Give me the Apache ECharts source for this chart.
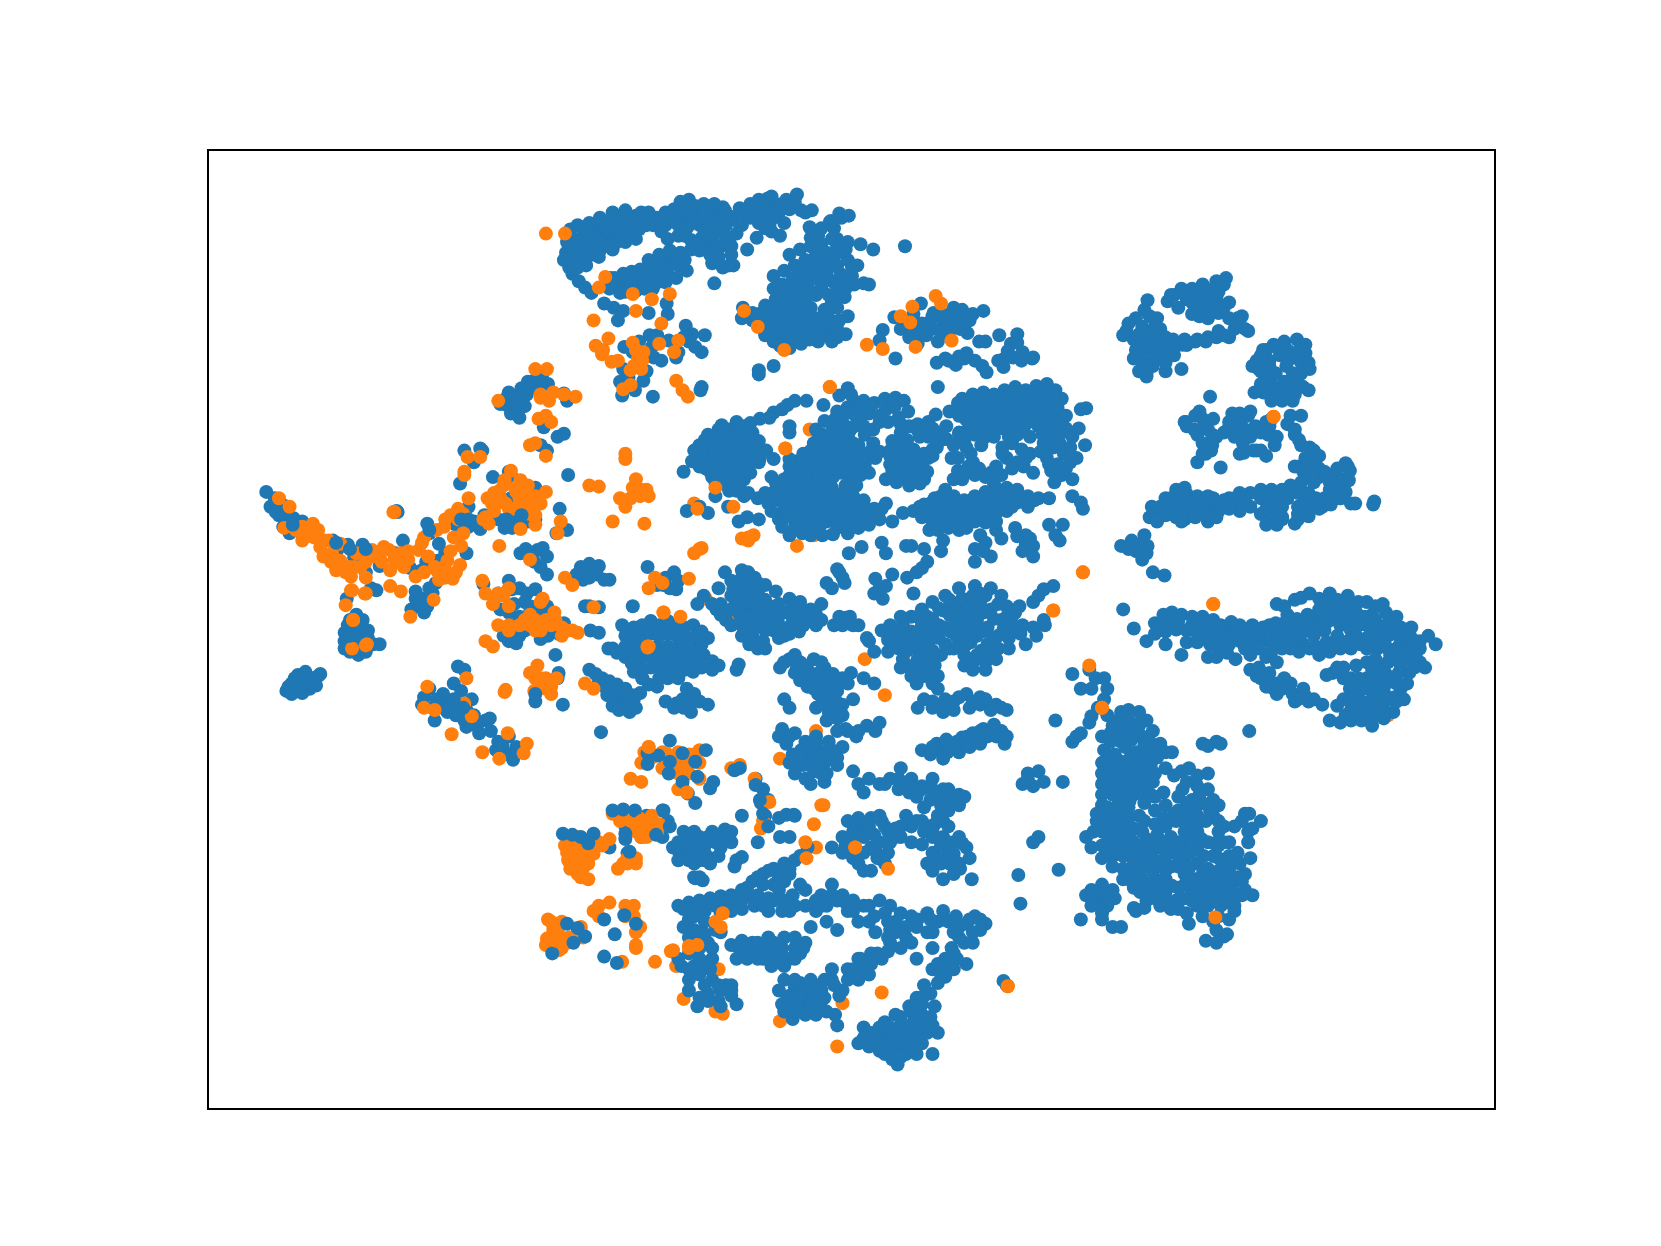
<!DOCTYPE html>
<html>
<head>
<meta charset="utf-8">
<title>scatter</title>
<script src="https://cdn.jsdelivr.net/npm/echarts@6/dist/echarts.min.js"></script>
<style>
html,body{margin:0;padding:0;background:#fff}
#chart{width:1661px;height:1246px}
</style>
</head>
<body>
<div id="chart"></div>
<script>
// values, one list per group of points
var blueTail = [[251,464],[255,478],[263,486],[268,477],[273,503],[277,489],[285,492],[284,503],[314,510],[318,519],[328,514],[342,514],[343,526],[334,526],[358,534],[373,522],[380,510],[387,536],[398,538],[402,530],[413,529],[440,522],[405,503],[403,494],[414,513],[438,494],[442,497],[453,499],[457,486],[442,478],[420,522],[345,540],[350,555],[355,557],[327,565],[392,565],[388,575],[395,570],[400,578],[408,560],[411,550],[374,482],[375,483],[430,495],[447,492],[259,470],[262,480],[270,488],[267,497],[392,558],[398,565],[403,572],[405,555]];
var blueLeftBlob = [[330,585],[325,597],[336,580],[342,585],[347,595],[325,605],[330,615],[340,610],[347,602],[352,608],[358,608],[332,600],[338,595],[325,612],[338,618],[345,615],[328,590],[335,590],[342,604],[334,608],[270,652],[275,645],[281,637],[288,634],[295,640],[300,638],[285,645],[292,650],[275,655],[283,650],[298,647],[278,640],[272,648],[288,640],[294,644],[302,636],[285,654]];
var blueCrown = [[472,381],[480,370],[488,376],[492,366],[498,360],[505,358],[512,352],[517,362],[495,383],[482,390],[490,394],[486,378],[497,372],[478,375],[509,365],[532,371],[535,378],[513,403],[526,412],[532,409],[516,425],[510,420],[438,425],[455,425],[447,436],[434,456],[453,423],[470,490],[476,498],[483,487],[490,482],[497,476],[490,492],[483,498],[498,492],[505,490],[482,470],[500,462],[505,460],[485,452],[480,445],[465,450],[528,480],[536,448],[535,500],[525,503],[491,522],[500,523],[507,519],[512,517],[516,525],[510,535],[516,542],[485,384],[502,365],[478,382],[491,372],[504,530],[496,518],[477,490],[487,494],[494,487]];
var blueMidLeft = [[544,542],[548,535],[550,547],[556,532],[565,534],[563,542],[570,547],[575,547],[556,545],[611,535],[620,552],[628,545],[636,540],[640,548],[638,556],[632,555],[456,551],[480,548],[483,556],[470,560],[490,555],[497,560],[505,556],[472,575],[480,578],[490,582],[500,578],[495,568],[507,572],[516,572],[520,580],[525,590],[532,588],[517,600],[510,603],[480,605],[475,600],[490,600],[487,607],[527,598],[552,572],[556,572],[565,573],[557,595],[565,597],[597,572],[574,612],[578,612],[524,618],[527,635],[526,640],[531,665],[505,662],[567,691],[485,570],[500,572],[510,580],[484,590],[495,595],[552,540],[560,538],[626,552]];
var bluePurse = [[432,629],[438,632],[428,645],[405,650],[398,665],[408,668],[418,655],[425,665],[430,675],[440,670],[447,675],[450,685],[458,680],[463,690],[470,700],[480,695],[487,705],[480,712],[484,717],[475,710],[462,678],[440,686],[415,662],[422,672],[435,652],[445,660],[410,680],[468,708],[418,668],[432,668],[438,680],[452,692],[474,703],[400,658],[412,660]];
var blueMainBlob = [[590,600],[598,592],[606,590],[614,586],[622,590],[630,586],[638,590],[646,592],[654,590],[662,596],[668,602],[590,610],[598,604],[606,600],[614,598],[622,600],[630,598],[638,600],[646,602],[654,602],[662,608],[590,620],[598,614],[606,612],[620,610],[630,610],[638,612],[646,612],[654,614],[664,618],[672,624],[596,626],[604,622],[614,620],[622,620],[630,620],[638,622],[646,622],[654,624],[662,630],[606,632],[614,630],[622,630],[630,630],[638,632],[646,632],[654,634],[622,640],[630,640],[640,640],[606,640],[598,634],[587,590],[582,616],[672,632],[678,628]];
var blueBelowBlob = [[556,632],[562,636],[568,640],[575,643],[582,646],[590,650],[597,656],[580,654],[572,650],[585,660],[592,666],[598,660],[604,654],[578,666],[584,670],[594,672],[606,640],[628,662],[638,664],[648,650],[655,655],[660,662],[668,665],[645,668],[652,672],[636,668],[697,627],[695,632],[565,644],[573,656],[588,656],[600,668],[612,646],[620,648],[644,660],[650,662]];
var blueTopLobe = [[538,216],[545,225],[540,232],[534,238],[540,244],[548,240],[555,236],[562,232],[570,228],[578,224],[586,220],[594,216],[600,210],[592,206],[584,204],[576,208],[568,212],[560,216],[552,220],[558,226],[566,222],[574,218],[582,214],[590,211],[597,222],[603,216],[606,208],[600,203],[590,201],[580,212],[572,215],[564,226],[556,228],[548,232],[542,238],[550,246],[558,240],[566,236],[574,232],[582,228],[537,252],[540,258],[546,265],[552,271],[558,276],[573,268],[580,262],[588,258],[596,256],[604,254],[612,256],[620,248],[628,244],[636,240],[642,238],[634,248],[622,258],[614,250],[600,262],[590,268],[582,270],[576,262],[606,266],[596,272],[616,264],[626,252],[646,245],[640,250],[630,258],[624,265],[616,272],[600,274],[590,275],[638,262],[648,255],[535,228],[532,245],[545,212],[556,210],[566,205],[578,200],[590,198],[605,200],[610,212],[600,225],[590,228],[578,235],[565,242],[553,250],[545,252],[536,222],[575,272],[585,276],[595,265],[608,262],[618,258],[608,272],[620,266],[612,245],[622,240],[632,236],[628,266]];
var blueTopGroups = [[620,205],[628,200],[636,197],[642,190],[650,188],[656,194],[664,192],[674,192],[682,195],[676,203],[668,202],[660,204],[652,202],[644,204],[636,208],[628,212],[640,212],[650,212],[660,212],[670,210],[680,205],[646,222],[652,226],[662,224],[674,218],[685,212],[695,220],[688,228],[680,232],[668,232],[660,236],[678,242],[690,240],[672,248],[692,250],[705,235],[700,202],[698,196],[708,192],[716,188],[724,187],[732,192],[742,188],[752,183],[745,197],[756,198],[766,198],[760,200],[716,198],[724,198],[708,205],[716,210],[722,215],[728,218],[736,222],[714,224],[700,212],[730,205],[612,200],[616,212],[624,218],[630,225],[640,222],[648,215],[655,207],[665,217],[672,226],[684,222],[670,240],[682,252],[688,250],[675,238],[690,232],[695,208],[705,198],[712,195],[720,192],[728,185],[738,192],[750,190],[718,205],[726,212],[735,200],[740,210],[658,230],[652,235],[684,198],[690,204],[676,212],[646,196],[634,204],[626,207],[640,200]];
var blueTopRight = [[764,214],[772,222],[784,208],[794,205],[787,215],[790,225],[800,228],[812,230],[824,235],[780,238],[770,240],[760,245],[750,250],[740,255],[730,260],[738,268],[748,262],[758,256],[768,250],[778,248],[788,240],[796,238],[790,250],[780,260],[770,262],[762,268],[752,274],[742,278],[732,282],[722,288],[716,296],[710,302],[722,302],[732,295],[742,292],[752,288],[760,282],[775,270],[785,265],[793,258],[800,245],[804,252],[738,305],[746,300],[756,298],[726,310],[735,315],[745,312],[756,310],[764,302],[754,320],[742,322],[730,322],[722,316],[768,315],[780,316],[772,322],[782,300],[790,290],[797,280],[785,285],[778,292],[770,300],[790,310],[800,298],[798,315],[790,270],[770,278],[806,268],[820,268],[815,267],[809,250],[701,290],[745,328],[730,345],[745,240],[755,235],[765,232],[775,230],[785,225],[775,215],[765,224],[792,201],[801,203],[783,209],[730,272],[738,276],[746,270],[756,265],[764,258],[772,256],[782,252],[790,232],[798,235],[738,288],[730,290],[748,282],[756,276],[720,295],[728,302],[716,308],[738,298],[746,290],[752,300],[760,292],[735,308],[745,305],[755,304],[728,316],[738,322],[748,318],[758,316],[765,312],[775,308],[784,308],[792,302],[782,292],[790,280],[798,272],[775,300],[772,310],[785,322],[790,318],[736,326],[756,324],[764,320],[700,300],[710,295],[804,260],[795,264],[752,262],[760,248],[770,245],[780,244],[775,258],[765,275],[782,278],[765,290],[755,292],[778,302]];
var blueMidTop = [[570,286],[579,290],[588,293],[583,302],[612,295],[629,286],[630,296],[613,316],[620,316],[615,327],[589,327],[597,332],[617,337],[588,348],[593,356],[607,359],[631,321],[638,337],[647,307],[653,315],[665,316],[662,332],[656,327],[645,318],[587,373],[616,374],[662,365],[661,368],[716,349],[716,353],[674,267],[854,232],[624,340],[640,332],[585,360],[599,368],[650,322],[610,350],[603,322]];
var blueRightTop = [[833,311],[830,321],[845,338],[844,299],[869,286],[862,296],[850,310],[858,318],[866,324],[874,316],[885,322],[870,305],[880,298],[890,304],[898,310],[908,292],[918,296],[905,300],[913,314],[924,322],[930,322],[895,315],[880,310],[881,295],[899,301],[915,302],[928,293],[943,316],[960,315],[954,324],[965,332],[974,338],[942,340],[947,346],[956,337],[884,342],[892,338],[902,344],[912,333],[920,340],[927,345],[931,351],[910,338],[975,337],[951,331],[860,312],[868,314],[877,304],[888,312],[906,310],[855,304],[960,323],[948,338],[964,340],[895,340],[905,336],[890,296],[900,290]];
var blueArc = [[681,401],[695,398],[717,395],[730,389],[743,382],[750,378],[761,378],[777,382],[688,405],[702,402],[726,394],[738,386],[708,399],[792,373],[800,366],[806,378],[815,378],[825,380],[835,376],[845,375],[853,378],[857,388],[848,394],[838,398],[830,392],[820,390],[812,395],[822,382],[830,398],[824,405],[800,384],[795,392],[812,385],[805,390],[815,402],[803,372],[790,388],[836,386],[844,384]];
var blueBlobA = [[660,420],[668,410],[678,405],[690,408],[700,404],[710,408],[716,416],[658,430],[666,422],[676,416],[686,416],[696,414],[706,418],[714,426],[660,440],[668,432],[678,428],[688,426],[698,426],[706,430],[716,436],[666,442],[676,438],[686,436],[696,436],[704,442],[672,450],[682,448],[692,446],[702,452],[680,456],[690,456],[698,460],[688,463],[708,446],[717,432],[645,445],[675,468],[702,468],[706,465],[687,478],[723,425],[730,433],[745,408],[745,402],[672,412],[684,410],[695,409],[706,411],[663,425],[672,420],[682,422],[692,420],[702,422],[710,422],[662,435],[672,436],[682,432],[692,431],[702,434],[670,445],[680,442],[690,441],[700,446],[675,455],[685,452],[695,452],[706,438],[665,415],[653,435],[655,425]];
var blueBlobB = [[728,450],[736,458],[745,448],[755,445],[765,450],[775,456],[785,460],[795,466],[805,468],[815,472],[825,480],[732,462],[742,460],[752,456],[762,460],[772,465],[782,470],[792,476],[802,478],[812,482],[822,488],[736,472],[746,470],[756,468],[766,472],[776,478],[786,484],[796,488],[806,490],[740,482],[750,480],[760,482],[770,486],[780,492],[790,498],[750,492],[760,494],[770,498],[745,505],[757,503],[765,505],[735,490],[725,475],[715,470],[705,488],[697,492],[716,490],[695,463],[770,440],[760,438],[752,435],[820,495],[832,480],[836,475],[842,492],[660,478],[668,484],[648,482],[732,455],[740,452],[750,451],[760,455],[770,458],[780,463],[790,470],[800,472],[810,476],[818,480],[735,467],[746,465],[756,462],[766,466],[776,472],[786,477],[796,482],[806,484],[815,488],[740,477],[750,475],[760,476],[770,480],[780,485],[790,490],[800,494],[745,487],[755,487],[765,490],[775,494],[738,497],[750,499],[760,500],[728,482],[730,470],[722,465],[762,445],[772,448],[745,440],[758,428],[745,433],[810,498],[830,490],[800,503],[786,504],[776,505]];
var blueUpperMid = [[768,418],[776,410],[786,405],[796,400],[806,402],[816,410],[824,418],[770,428],[780,420],[790,415],[800,412],[810,420],[818,428],[778,432],[788,428],[798,425],[808,430],[776,442],[786,438],[796,436],[806,440],[816,438],[826,432],[830,426],[794,446],[802,450],[812,448],[786,450],[820,446],[770,405],[778,397],[788,395],[772,414],[782,410],[792,408],[802,406],[772,422],[785,422],[795,420],[805,418],[782,436],[792,432],[803,435],[813,432],[822,425],[780,446],[790,442],[800,444],[810,442],[765,425],[768,434],[798,458],[808,458]];
var blueRing = [[842,416],[850,408],[858,402],[866,400],[876,398],[884,408],[888,415],[880,424],[872,428],[862,424],[852,418],[845,428],[855,432],[866,434],[876,432],[884,422],[840,438],[850,440],[860,442],[870,440],[846,448],[856,450],[866,448],[836,452],[846,455],[858,458],[872,452],[875,445],[893,402],[893,414],[905,408],[896,388],[883,391],[885,365],[848,422],[858,424],[868,412],[876,412],[850,434],[860,435],[870,432],[880,430],[842,444],[852,444],[862,446],[856,415],[866,406],[880,404],[840,430],[885,415],[850,400],[875,402],[840,425],[868,456]];
var blueUpperRight = [[908,376],[918,372],[928,370],[938,372],[948,368],[958,365],[968,368],[978,364],[988,362],[996,368],[1002,376],[910,386],[920,384],[930,382],[940,384],[950,380],[960,378],[970,380],[980,378],[990,378],[998,385],[912,396],[922,394],[932,394],[942,396],[952,392],[962,392],[972,392],[982,390],[992,392],[1002,396],[914,404],[924,404],[934,406],[946,404],[956,404],[966,404],[980,402],[992,404],[1000,410],[1018,404],[1020,386],[1025,385],[1024,420],[1012,412],[900,420],[910,416],[904,432],[916,428],[926,420],[904,444],[914,440],[908,452],[920,448],[946,422],[955,418],[964,424],[972,428],[950,432],[940,440],[960,436],[930,450],[938,456],[966,440],[975,446],[945,448],[985,418],[994,422],[1004,428],[988,432],[998,438],[1010,436],[1016,432],[992,444],[1002,448],[1012,452],[995,455],[1020,474],[1022,480],[904,380],[914,378],[924,376],[934,376],[944,375],[954,372],[964,372],[974,372],[984,370],[994,372],[905,392],[916,390],[926,388],[936,388],[946,388],[956,386],[966,386],[976,385],[986,384],[996,384],[1006,392],[916,400],[928,400],[938,400],[950,398],[960,398],[970,398],[976,398],[986,396],[996,398],[1006,404],[905,410],[912,422],[920,410],[930,412],[938,412],[952,412],[960,410],[972,412],[984,410],[992,412],[1000,418],[1010,422],[898,432],[918,436],[910,446],[900,452],[924,442],[946,428],[968,432],[955,442],[935,446],[982,426],[990,438],[1006,442]];
var blueLowerMid = [[862,482],[872,476],[882,470],[892,462],[900,468],[910,472],[920,468],[930,464],[940,462],[950,460],[960,462],[970,468],[980,470],[990,470],[870,488],[880,482],[890,476],[900,480],[910,482],[920,478],[930,476],[940,472],[950,472],[960,474],[970,478],[880,492],[890,488],[900,490],[910,490],[920,488],[930,486],[940,484],[950,482],[885,500],[895,498],[905,500],[852,484],[877,500],[890,510],[913,492],[925,505],[920,518],[930,512],[940,500],[935,525],[920,530],[945,508],[958,498],[968,505],[975,515],[965,520],[975,525],[990,495],[996,505],[1000,510],[1003,495],[1012,468],[860,515],[872,518],[888,520],[884,494],[868,478],[878,475],[888,468],[896,472],[906,476],[916,474],[926,470],[936,468],[946,466],[956,468],[966,473],[976,472],[875,486],[885,486],[895,484],[905,486],[915,484],[925,482],[935,480],[945,478],[955,478],[892,494],[902,495],[912,498],[920,492],[930,493],[960,506],[928,520],[968,514],[972,508],[940,492]];
var blueCenterScatter = [[801,522],[813,516],[832,512],[836,522],[826,546],[842,542],[836,553],[855,515],[790,537],[795,545],[780,550],[785,555],[797,550],[825,560],[833,565],[856,545],[865,540],[875,530],[862,560],[792,540],[830,555],[870,536]];
var blueMidCluster = [[684,540],[700,538],[704,550],[712,545],[722,552],[732,558],[745,565],[755,568],[770,580],[770,590],[692,556],[702,560],[712,556],[722,566],[732,572],[742,578],[752,582],[762,586],[694,570],[704,574],[714,570],[724,578],[734,586],[744,592],[754,596],[664,562],[672,570],[676,575],[685,585],[700,590],[710,600],[720,605],[730,595],[740,600],[707,608],[678,555],[792,582],[802,582],[795,590],[810,590],[787,590],[642,600],[658,570],[690,562],[696,550],[708,566],[716,562],[726,572],[736,578],[748,572],[758,576],[766,584],[698,580],[708,582],[718,585],[728,590],[738,595],[748,587],[758,590],[700,600],[712,592],[722,595],[690,575],[700,545],[715,550],[805,590],[798,583],[775,570],[690,548],[706,540],[695,565],[706,568],[716,576],[726,582],[735,570],[745,578],[755,575],[765,575],[775,585],[745,598],[735,602],[710,590],[690,590],[680,570],[702,598],[715,612],[722,612],[680,580]];
var blueCenterLower = [[820,605],[832,595],[842,598],[852,590],[860,582],[870,575],[880,568],[892,562],[905,555],[920,553],[935,555],[945,562],[950,572],[958,578],[850,604],[860,596],[870,590],[880,584],[890,576],[900,570],[912,566],[925,568],[935,575],[945,585],[955,592],[860,608],[870,604],[880,600],[892,592],[902,585],[912,582],[922,585],[932,592],[942,600],[952,602],[870,618],[880,614],[892,608],[902,600],[912,598],[922,600],[932,608],[942,612],[852,622],[862,628],[872,630],[882,628],[860,638],[872,638],[885,638],[900,612],[910,618],[918,625],[930,625],[940,622],[918,632],[968,608],[978,600],[986,590],[985,556],[980,562],[975,568],[962,572],[825,615],[818,602],[843,610],[994,553],[963,598],[866,582],[875,582],[886,574],[896,566],[918,562],[930,562],[942,570],[848,596],[856,600],[866,598],[876,594],[886,590],[896,580],[906,576],[918,574],[928,578],[938,584],[950,582],[866,612],[876,608],[886,602],[897,596],[907,592],[917,590],[927,596],[937,602],[947,594],[856,614],[866,622],[876,622],[888,618],[896,612],[906,608],[916,606],[926,614],[936,616],[858,630],[868,634],[878,632],[912,608],[922,618],[952,612],[848,612],[838,604],[840,590],[850,582],[838,615],[850,630],[865,645],[880,645],[905,600],[955,582],[965,590],[975,592],[985,585],[908,565],[925,560],[940,612],[930,632],[910,628],[885,650]];
var blueLowerCenter = [[736,630],[745,622],[755,625],[768,622],[778,630],[786,636],[795,640],[803,635],[815,640],[825,645],[750,635],[760,638],[770,642],[780,648],[790,652],[762,648],[772,655],[782,662],[795,665],[805,660],[770,668],[782,672],[790,678],[800,690],[808,695],[818,685],[826,690],[740,660],[745,668],[738,688],[750,692],[742,702],[760,700],[770,695],[782,700],[795,705],[790,715],[778,720],[768,728],[758,722],[750,730],[765,740],[778,738],[760,712],[748,712],[775,710],[798,688],[830,682],[872,660],[880,662],[890,668],[900,662],[912,655],[925,658],[940,665],[950,670],[890,672],[915,668],[870,708],[878,712],[888,708],[898,702],[908,696],[918,692],[928,688],[938,684],[905,710],[890,716],[948,702],[752,630],[762,632],[770,636],[780,640],[755,642],[768,650],[778,655],[788,660],[776,664],[786,668],[790,690],[785,708],[770,702],[768,716],[756,708],[752,722],[768,722],[780,730],[790,722],[880,668],[900,670],[925,665],[935,670],[884,702],[894,710],[912,702],[922,698],[932,695],[866,668],[945,690],[740,625],[750,618],[760,628],[775,625],[790,645],[800,645],[780,680],[795,675],[810,690],[765,705],[755,715],[785,715],[745,720],[760,735],[775,730],[745,695],[735,695],[892,660],[905,658],[918,662],[930,660],[945,668],[880,705],[893,698],[903,700],[913,695],[925,690],[900,705],[915,705],[925,702],[940,695],[950,695]];
var blueLower2 = [[805,728],[820,735],[835,740],[850,725],[860,735],[870,742],[880,735],[890,745],[900,755],[910,752],[850,740],[865,752],[878,755],[888,760],[800,775],[812,780],[822,772],[832,775],[845,790],[795,790],[805,795],[815,790],[830,795],[855,770],[865,775],[875,780],[885,770],[895,765],[880,790],[890,790],[900,795],[912,800],[915,810],[895,805],[880,805],[870,797],[860,795],[838,805],[828,810],[822,822],[810,815],[795,805],[785,800],[880,822],[890,830],[900,825],[917,830],[888,815],[840,735],[848,745],[858,748],[872,762],[884,750],[895,745],[805,785],[815,785],[825,788],[838,785],[808,803],[822,800],[835,815],[888,798],[900,806],[908,796],[872,785],[882,778],[890,775],[860,780],[850,780],[905,760],[810,740],[798,798],[830,770],[896,815],[906,820],[815,748],[830,740],[810,772],[820,780],[835,780],[845,782],[850,790],[800,800],[815,805],[826,803],[840,795],[805,810],[815,822],[870,775],[880,785],[895,780],[905,790],[895,795],[885,810],[875,815],[905,815],[870,745],[895,755],[860,742],[848,735],[880,745],[905,750]];
var blueLower3 = [[605,790],[620,782],[630,775],[625,765],[610,770],[590,780],[600,782],[615,778],[540,790],[548,792],[590,792],[625,790],[640,795],[650,800],[660,790],[672,785],[684,783],[690,795],[680,800],[670,810],[660,812],[645,808],[635,800],[652,792],[665,798],[655,828],[660,828],[592,805],[575,800],[695,812],[700,770],[722,770],[735,772],[750,770],[718,758],[713,735],[720,745],[725,755],[736,790],[745,790],[645,795],[655,805],[665,805],[675,795],[685,790],[660,797],[650,812],[640,803],[670,815],[655,785],[645,785],[668,790],[680,792],[690,785],[655,815],[665,812],[678,808],[640,812]];
var blueBottomLeft = [[640,855],[650,852],[660,850],[670,848],[680,846],[690,845],[700,840],[710,832],[720,825],[730,820],[740,815],[750,812],[762,800],[745,825],[735,828],[720,835],[706,845],[725,848],[735,840],[748,845],[738,860],[725,860],[712,855],[700,858],[690,860],[680,862],[665,870],[660,880],[650,885],[668,890],[680,880],[690,892],[700,898],[712,900],[720,905],[730,890],[740,885],[750,895],[745,905],[760,890],[765,875],[770,860],[760,840],[775,845],[785,835],[795,845],[800,860],[815,855],[830,850],[840,855],[810,870],[825,865],[838,870],[850,862],[860,865],[875,862],[890,860],[902,865],[920,865],[930,872],[845,880],[855,885],[840,890],[832,905],[822,910],[810,905],[800,915],[785,925],[795,935],[810,925],[820,920],[865,905],[880,895],[905,875],[910,890],[900,900],[912,910],[900,915],[892,922],[885,928],[878,938],[870,948],[860,955],[835,965],[845,958],[850,968],[862,965],[870,958],[882,950],[885,975],[880,995],[838,985],[850,990],[855,985],[870,985],[860,975],[825,975],[815,970],[820,988],[830,992],[810,985],[847,1005],[750,932],[745,940],[755,928],[765,925],[775,935],[772,950],[762,945],[755,955],[748,962],[742,945],[780,955],[792,940],[790,968],[788,958],[640,905],[655,912],[665,910],[672,905],[672,925],[680,935],[690,940],[695,948],[650,935],[658,950],[678,945],[645,875],[650,868],[685,930],[665,930],[650,925],[643,912],[950,930],[947,926],[735,935],[745,952],[758,938],[768,940],[738,948],[752,948],[760,958],[778,942],[787,930],[800,925],[815,915],[828,900],[838,898],[850,895],[860,890],[875,880],[885,870],[895,870],[912,872],[918,880],[905,885],[898,895],[892,905],[880,915],[885,910],[872,930],[865,942],[858,950],[850,960],[840,975],[830,980],[845,980],[855,995],[865,995],[875,975],[835,995],[842,1000],[815,980],[875,965],[862,985],[700,888],[710,890],[720,895],[730,900],[738,895],[750,885],[758,895],[695,905],[705,905],[740,912],[728,912],[660,895],[672,895],[660,920],[668,938],[680,950],[690,930],[650,900],[655,865],[665,860],[675,855],[700,850],[715,845],[730,835],[740,850],[755,835],[750,855],[775,855],[785,845],[798,852],[780,870],[790,878],[805,860],[760,855],[865,875],[878,868],[840,878],[850,875],[826,880],[838,885],[695,893],[705,895],[715,890],[725,885],[735,905],[755,900],[725,905],[750,905],[715,905],[740,925],[750,925],[760,932],[770,930],[778,925],[755,940],[765,950],[775,945],[750,955],[740,955],[770,958],[785,915],[805,915],[812,905],[822,900],[862,950],[872,940],[888,920],[895,912],[903,905],[918,890],[925,878],[915,868],[820,975],[830,970],[840,970],[850,975],[860,968],[870,970],[878,960],[835,985],[845,985],[855,975],[865,978],[825,985],[840,992],[850,998],[860,990],[880,968],[645,858],[655,857],[665,853],[685,852],[695,850],[705,838],[715,828],[725,822],[735,822],[745,820],[755,808],[740,832],[730,850],[720,855],[745,860],[770,850],[780,855],[790,850],[805,850],[820,855],[835,862],[820,870],[845,870],[855,875],[866,868],[880,880],[890,868],[900,880],[925,868],[655,878],[665,882],[675,878],[660,905],[670,915],[650,915],[655,895],[678,930],[690,935],[660,942],[668,945]];
var blueFarRight1 = [[1087,315],[1083,283],[1092,300],[1072,300],[1060,316],[1075,323],[1085,325],[1095,310],[1107,320],[1102,284],[1108,278],[1115,272],[1125,272],[1135,268],[1148,265],[1157,262],[1145,272],[1132,280],[1120,282],[1112,290],[1128,290],[1138,292],[1148,282],[1160,285],[1168,300],[1175,310],[1165,310],[1150,312],[1140,318],[1130,320],[1120,325],[1108,328],[1095,335],[1072,330],[1078,340],[1088,345],[1098,338],[1082,352],[1115,348],[1120,325],[1100,350],[1105,278],[1120,276],[1130,275],[1140,278],[1150,275],[1155,268],[1125,285],[1135,285],[1145,288],[1150,295],[1125,296],[1132,298],[1140,300],[1155,290],[1160,300],[1172,298],[1178,312],[1160,318],[1110,325],[1118,320],[1128,322],[1138,322],[1148,318],[1155,316],[1100,318],[1070,320],[1063,312],[1078,308],[1085,298],[1090,308],[1075,315],[1085,318],[1092,322],[1098,328],[1088,332],[1078,332],[1070,338],[1080,345],[1090,338],[1100,342],[1108,335],[1116,325],[1075,350],[1082,355],[1065,305],[1080,292]];
var blueFarRight2 = [[1202,325],[1212,322],[1224,320],[1232,333],[1186,340],[1190,350],[1198,340],[1208,335],[1218,338],[1228,342],[1235,342],[1190,362],[1198,372],[1208,375],[1216,372],[1230,365],[1188,348],[1200,362],[1220,352],[1228,352],[1204,352],[1212,360],[1222,372],[1195,330],[1204,327],[1215,330],[1224,332],[1232,325],[1190,335],[1228,330],[1236,348],[1226,362],[1218,362],[1195,352],[1192,370],[1200,378],[1210,378],[1220,378],[1235,368],[1192,330],[1214,345],[1198,345],[1196,360],[1212,366],[1184,370],[1204,368],[1182,345]];
var blueFarRight3 = [[1142,374],[1119,398],[1132,388],[1138,400],[1144,410],[1135,418],[1138,428],[1130,436],[1145,395],[1148,412],[1120,402],[1155,408],[1152,441],[1163,390],[1172,395],[1180,388],[1160,403],[1172,408],[1185,402],[1195,398],[1197,410],[1200,395],[1173,418],[1170,428],[1186,425],[1195,430],[1218,392],[1228,392],[1215,400],[1222,410],[1228,420],[1232,432],[1240,428],[1226,440],[1238,440],[1234,450],[1272,440],[1118,398],[1128,392],[1135,395],[1140,405],[1147,412],[1144,420],[1130,410],[1127,405],[1135,428],[1143,425],[1165,400],[1170,390],[1178,392],[1160,398],[1170,410],[1180,412],[1190,408],[1198,402],[1205,412],[1203,420],[1165,412],[1175,405],[1174,427],[1183,425],[1190,425],[1222,405],[1226,415],[1240,425],[1245,430],[1235,435],[1222,440],[1230,445],[1240,440],[1236,422]];
var blueFarRight4 = [[1090,484],[1100,470],[1110,462],[1118,460],[1125,470],[1115,478],[1105,478],[1085,488],[1100,486],[1110,488],[1120,485],[1130,480],[1140,478],[1150,475],[1160,470],[1170,465],[1180,465],[1190,470],[1200,478],[1210,488],[1225,490],[1235,480],[1242,470],[1255,462],[1265,470],[1275,475],[1260,450],[1245,450],[1235,465],[1218,458],[1210,462],[1200,462],[1180,478],[1170,475],[1140,492],[1118,490],[1205,495],[1222,494],[1248,478],[1256,476],[1270,464],[1297,473],[1296,476],[1150,482],[1190,485],[1245,442],[1095,478],[1105,470],[1112,468],[1120,466],[1128,478],[1135,472],[1145,470],[1155,472],[1165,470],[1175,468],[1190,462],[1198,470],[1208,470],[1195,480],[1205,480],[1210,478],[1215,470],[1225,478],[1232,472],[1240,478],[1250,470],[1255,455],[1268,452],[1270,437],[1274,444],[1273,453],[1279,475],[1262,442],[1250,445],[1240,455],[1228,455],[1225,465],[1262,460],[1265,470],[1255,470],[1245,480],[1235,487],[1225,485],[1210,490],[1200,490],[1195,495],[1170,482],[1160,480],[1148,488],[1138,485],[1128,488],[1087,478],[1100,480],[1092,492],[1105,485],[1115,492],[1110,482],[1120,475],[1130,468],[1140,468]];
var blueDown = [[1058,515],[1068,510],[1080,505],[1083,515],[1072,520],[1078,528],[1088,540],[1099,543],[1060,575],[1012,636],[1076,514],[1082,522],[1065,518]];
var blueLongArm = [[1070,593],[1082,605],[1090,588],[1098,580],[1106,578],[1115,580],[1125,590],[1135,582],[1145,585],[1090,598],[1100,596],[1110,594],[1120,595],[1130,598],[1140,600],[1150,597],[1160,595],[1170,590],[1182,590],[1192,592],[1200,598],[1210,595],[1220,592],[1230,590],[1240,585],[1250,578],[1262,572],[1272,570],[1280,578],[1290,590],[1298,595],[1290,602],[1275,595],[1265,590],[1250,595],[1240,600],[1230,608],[1220,605],[1210,612],[1200,608],[1190,605],[1180,606],[1170,605],[1160,608],[1150,612],[1140,620],[1115,618],[1100,608],[1180,618],[1166,622],[1195,620],[1205,625],[1205,570],[1222,566],[1236,560],[1245,575],[1255,560],[1272,562],[1290,568],[1298,572],[1308,578],[1318,582],[1310,600],[1322,592],[1332,592],[1340,605],[1348,600],[1355,608],[1340,625],[1345,630],[1330,610],[1320,610],[1310,612],[1300,612],[1330,622],[1330,635],[1320,635],[1310,625],[1300,630],[1095,590],[1105,588],[1112,586],[1125,582],[1132,590],[1142,592],[1152,590],[1162,587],[1172,598],[1184,598],[1194,600],[1204,588],[1214,586],[1224,584],[1234,580],[1244,590],[1254,586],[1264,580],[1272,585],[1282,590],[1262,600],[1252,606],[1242,610],[1120,606],[1130,606],[1142,608],[1152,604],[1162,600],[1175,612],[1188,612],[1200,615],[1214,604],[1224,600],[1262,566],[1282,568],[1265,575],[1255,570],[1280,600],[1290,612],[1275,612],[1265,612],[1255,615],[1245,618],[1215,580],[1212,572],[1228,564],[1148,620],[1158,616],[1310,588],[1302,600],[1320,600],[1332,602],[1340,612],[1318,622],[1308,636],[1298,622],[1335,630],[1218,600],[1228,598],[1238,594],[1248,588],[1258,582],[1268,578],[1278,585],[1288,582],[1298,585],[1306,592],[1316,592],[1326,600],[1296,605],[1306,606],[1316,616],[1326,615],[1336,618],[1284,608],[1272,605],[1258,610],[1248,612],[1236,612],[1226,615],[1218,612],[1208,604],[1198,590],[1188,598],[1178,595],[1168,598],[1158,602],[1245,565],[1252,568],[1275,575],[1295,580],[1305,570],[1312,618],[1322,628]];
var blueLongArm2 = [[1180,632],[1190,640],[1198,635],[1205,645],[1212,640],[1220,655],[1230,650],[1205,655],[1195,648],[1240,660],[1248,665],[1258,635],[1268,630],[1280,628],[1290,625],[1300,640],[1312,640],[1322,650],[1328,645],[1290,640],[1278,655],[1285,662],[1295,660],[1305,665],[1315,672],[1268,660],[1275,670],[1290,675],[1255,680],[1265,682],[1275,680],[1285,680],[1295,685],[1305,670],[1325,660],[1179,690],[1186,638],[1202,650],[1215,648],[1222,662],[1232,657],[1274,650],[1284,650],[1296,650],[1306,652],[1316,658],[1274,662],[1284,670],[1296,668],[1306,678],[1318,662],[1262,666],[1270,675],[1280,672],[1252,637],[1275,640],[1300,650],[1290,650],[1308,645],[1318,645],[1300,658],[1290,668],[1300,675],[1310,660],[1282,640],[1268,640],[1262,630],[1295,632],[1188,630],[1195,642],[1210,650],[1218,645],[1225,660],[1235,662]];
var blueBigRight = [[1028,632],[1034,640],[1020,650],[1030,650],[1042,640],[1045,650],[1042,660],[1036,668],[1030,676],[1058,672],[1065,680],[1075,672],[1082,680],[1050,685],[1040,695],[1048,700],[1058,692],[1068,690],[1078,695],[1088,690],[1095,702],[1042,708],[1052,712],[1062,705],[1072,710],[1082,712],[1092,715],[1050,722],[1060,725],[1070,722],[1080,725],[1090,730],[1100,725],[1106,710],[1115,728],[1122,725],[1040,740],[1052,735],[1062,738],[1072,740],[1082,742],[1116,745],[1130,742],[1140,745],[1140,730],[1125,755],[1135,758],[1145,755],[1040,760],[1050,750],[1060,752],[1070,750],[1080,758],[1090,752],[1098,748],[1120,772],[1130,770],[1145,770],[1150,785],[1035,775],[1045,770],[1055,765],[1065,762],[1075,770],[1025,790],[1040,785],[1050,782],[1060,778],[1070,782],[1080,775],[1098,772],[1110,775],[1118,785],[1130,785],[1140,795],[1155,795],[1160,808],[1168,805],[1040,798],[1050,795],[1060,795],[1070,795],[1082,792],[1092,788],[1105,790],[1118,798],[1130,800],[1145,808],[1050,808],[1060,808],[1070,805],[1082,805],[1095,800],[1105,802],[1118,812],[1130,815],[1140,820],[1150,822],[1160,820],[1168,828],[1060,820],[1070,815],[1082,818],[1095,815],[1105,818],[1118,825],[1128,830],[1140,832],[1150,835],[1162,835],[1172,832],[1068,832],[1078,830],[1090,830],[1100,830],[1112,838],[1125,842],[1135,845],[1148,845],[1160,848],[1076,842],[1088,842],[1100,842],[1110,850],[1130,855],[1140,855],[1152,855],[1165,855],[1182,845],[1095,855],[1105,858],[1122,872],[1120,862],[1080,857],[1072,860],[1138,888],[1148,890],[1155,884],[1158,882],[1148,878],[1145,870],[1165,860],[1172,845],[1135,702],[1148,700],[1152,702],[1140,704],[1179,768],[1172,775],[1182,782],[1190,775],[1175,768],[1178,785],[1165,780],[999,821],[1178,795],[1062,682],[1072,684],[1048,692],[1058,700],[1068,698],[1080,703],[1090,708],[1046,716],[1056,718],[1066,716],[1076,718],[1086,722],[1048,730],[1058,732],[1068,730],[1078,732],[1088,738],[1108,732],[1120,738],[1130,732],[1046,745],[1056,745],[1066,746],[1076,748],[1086,750],[1112,752],[1132,750],[1142,765],[1130,760],[1120,758],[1045,762],[1056,758],[1066,756],[1035,768],[1045,778],[1055,775],[1065,772],[1078,785],[1090,778],[1100,780],[1108,768],[1120,780],[1130,778],[1138,775],[1150,775],[1155,780],[1032,785],[1046,790],[1056,788],[1066,788],[1076,800],[1088,798],[1100,795],[1112,795],[1124,790],[1134,792],[1146,796],[1150,798],[1044,805],[1055,802],[1065,800],[1076,812],[1088,810],[1100,808],[1112,808],[1124,805],[1136,808],[1150,810],[1158,815],[1065,826],[1076,822],[1088,822],[1100,822],[1112,818],[1122,820],[1135,825],[1145,828],[1155,828],[1164,842],[1084,836],[1094,836],[1106,836],[1118,835],[1130,838],[1142,840],[1155,842],[1090,848],[1100,850],[1118,848],[1125,850],[1138,850],[1148,850],[1158,852],[1175,840],[1050,735],[1100,710],[1125,765],[1112,765],[1100,760],[1090,765],[1030,800],[1040,810],[1050,818],[1060,830],[1070,838],[1082,850],[1160,830],[1175,825],[1180,810],[1170,815],[1160,795],[1150,760],[1045,675],[1055,680],[1065,670],[1075,685],[1085,700],[1040,720],[1040,730],[1040,750],[1095,840],[1112,858],[1135,865],[1150,865],[1160,868]];
var blueBigRightLeft = [[1030,840],[1040,835],[1050,840],[1025,845],[1035,852],[1045,855],[1040,862],[1020,868],[1040,868],[1050,875],[1058,875],[1012,700],[1020,692],[1028,682],[1016,695],[1003,738],[970,730],[980,728],[965,740],[975,742],[985,738],[970,735],[996,680],[980,790],[975,795],[961,826],[963,853],[1070,857],[1032,846],[1042,845],[1052,848],[1035,842],[1045,848],[1030,855]];
var blueOver = [[632,699],[611,711],[611,721],[621,713],[632,719],[644,711],[656,719],[666,708],[631,730],[644,738],[658,733],[673,738],[670,744],[656,758],[649,749],[693,727],[698,725],[713,741],[717,755],[720,768],[725,780],[742,769],[749,769],[715,795],[700,809],[693,818],[656,829],[663,831],[531,787],[540,788],[548,790],[555,796],[560,787],[590,787],[594,804],[578,765],[588,764],[599,765],[626,765],[632,780],[619,788],[535,872],[545,876],[552,884],[541,890],[521,900],[570,868],[580,882],[589,864],[600,872],[570,903],[582,909],[260,483],[276,495],[317,512],[330,518],[345,518],[405,500],[435,490],[442,490],[478,490],[492,486],[330,600],[428,660],[437,668],[430,672],[505,655]];
var orangeBelow = [[1147,866],[1310,675],[764,405],[741,423],[724,472],[700,508],[706,510],[752,515],[768,505],[655,475],[660,518],[655,522],[692,583],[690,578],[666,565],[816,622],[835,656],[770,690],[736,716],[770,800],[790,988],[795,947],[832,937],[951,931],[736,964],[675,955],[682,957],[645,943],[678,915],[633,898],[638,912],[618,908],[587,908]];
var orangeTail = [[263,470],[273,478],[279,500],[295,494],[296,507],[302,516],[310,510],[321,513],[317,538],[321,529],[331,544],[340,535],[351,519],[362,516],[367,519],[368,538],[356,525],[381,535],[392,544],[395,519],[400,507],[419,535],[422,529],[427,546],[434,533],[414,547],[368,553],[378,558],[409,566],[387,582],[326,571],[331,557],[344,560],[425,486],[419,497],[428,507],[442,470],[461,494],[464,475],[471,463],[476,453],[482,444],[491,453],[493,475],[477,475],[505,486],[510,475],[515,464],[491,499],[471,515],[529,492],[526,503],[372,483],[268,498],[285,497],[300,500],[306,510],[313,522],[318,532],[325,535],[335,535],[345,530],[358,522],[372,528],[378,522],[385,528],[398,512],[404,525],[412,538],[430,540],[432,490],[437,485],[456,490],[466,482],[472,470],[487,464],[497,468],[484,480],[503,475],[500,485],[326,540],[336,522],[350,525],[460,470],[468,475],[475,458],[486,460],[498,458],[505,468],[466,465],[480,480],[490,470],[458,488],[505,495],[312,530],[330,535],[345,545],[360,530],[375,530],[385,520],[400,540],[410,535],[420,545],[425,520],[435,515],[412,500],[420,490],[432,480],[437,503],[290,500],[285,510],[305,525]];
var orangeScattered = [[438,445],[441,431],[453,431],[516,348],[505,348],[470,378],[510,375],[515,392],[500,420],[505,418],[515,430],[532,372],[543,374],[500,528],[533,545],[540,552],[612,555],[618,545],[650,546],[625,550],[455,548],[458,560],[468,563],[475,562],[512,565],[510,568],[495,585],[505,585],[515,585],[524,585],[540,595],[545,597],[530,600],[470,590],[480,595],[458,605],[465,610],[500,590],[523,578],[560,573],[556,458],[565,459],[590,428],[590,433],[585,470],[597,460],[605,462],[612,468],[578,492],[608,494],[600,452],[590,478],[333,585],[345,609],[332,612],[510,372],[518,378],[522,370],[520,398],[508,395],[480,572],[500,580],[530,592],[595,470],[604,468],[610,462],[470,560],[480,555],[465,570],[490,590],[480,590],[505,595],[520,590],[535,595],[510,595]];
var orangeLower = [[440,640],[403,648],[400,668],[410,670],[438,664],[445,676],[426,693],[455,710],[471,716],[479,692],[497,702],[494,711],[507,628],[509,645],[504,652],[515,650],[525,640],[520,655],[477,651],[476,653],[552,645],[560,650],[611,610],[626,578],[642,582],[515,220],[533,220],[560,302],[574,319],[562,326],[568,334],[577,341],[595,349],[606,340],[607,332],[597,323],[638,359],[644,368],[649,374],[588,367],[595,363],[624,305],[622,324],[640,321],[636,332],[600,293],[632,277],[615,282],[597,277],[565,271],[571,261],[600,330],[605,348],[883,279],[888,286],[861,289],[850,298],[859,304],[864,327],[898,321],[818,325],[833,329],[783,365],[702,293],[715,308],[740,330],[1202,393],[1145,570],[994,576],[1022,540],[1040,668],[1028,628],[662,517],[706,507],[711,505],[658,480],[675,460],[692,478],[569,330],[583,340],[602,338],[598,345],[510,640],[515,640],[520,648],[500,635],[505,640]];
var orangeBottom = [[612,705],[625,710],[640,710],[655,712],[660,708],[605,720],[595,735],[605,738],[650,730],[645,745],[660,735],[585,768],[578,768],[603,772],[610,778],[620,785],[600,785],[605,790],[537,790],[545,790],[548,800],[535,805],[540,815],[550,820],[558,800],[565,795],[575,792],[545,825],[555,830],[583,820],[592,815],[600,810],[590,855],[598,865],[560,860],[565,865],[517,868],[527,875],[545,880],[520,890],[515,892],[530,895],[550,885],[600,880],[600,892],[635,897],[658,892],[675,870],[682,862],[650,895],[726,757],[720,775],[718,782],[777,760],[768,778],[760,795],[807,800],[838,820],[698,722],[712,735],[690,725],[540,800],[547,810],[553,806],[536,812],[544,820],[608,780],[614,774],[602,778],[612,786],[522,880],[530,885],[525,892],[535,890],[516,886],[527,897],[630,712],[638,720],[540,795],[533,798],[548,805],[542,808],[555,815],[560,806],[568,798],[548,828],[538,820],[585,775],[595,775],[615,770],[622,778],[610,790],[592,810],[600,815],[588,815],[615,715],[608,710],[635,715],[650,712],[645,722],[660,720],[625,725],[640,730],[640,745],[520,870],[530,870],[522,876],[537,885],[548,875],[520,895],[575,852],[590,865],[598,855],[604,875],[600,895],[565,855]];
var orangeTop = [[612,610],[1147,866],[1202,393],[1145,570],[761,810],[807,800],[775,760],[612,705],[648,748],[605,775],[552,812],[525,888],[680,875],[650,893],[346,608],[333,585],[371,483],[438,448],[611,611],[626,578],[1040,668],[1022,540],[994,576],[951,931],[783,365],[741,423],[332,557],[345,560]];

var myChart = echarts.init(document.getElementById("chart"));

function dots(list, color) {
	return {
		type: "scatter",
		data: list,
		symbolSize: 14,
		itemStyle: { color: color, opacity: 1 },
		silent: true,
		animation: false
	};
}

var blueAll = [].concat(blueTail, blueLeftBlob, blueCrown, blueMidLeft, bluePurse, blueMainBlob, blueBelowBlob,
	blueTopLobe, blueTopGroups, blueTopRight, blueMidTop, blueRightTop, blueArc, blueBlobA, blueBlobB, blueUpperMid,
	blueRing, blueUpperRight, blueLowerMid, blueCenterScatter, blueMidCluster, blueCenterLower, blueLowerCenter,
	blueLower2, blueLower3, blueBottomLeft, blueFarRight1, blueFarRight2, blueFarRight3, blueFarRight4, blueDown,
	blueLongArm, blueLongArm2, blueBigRight, blueBigRightLeft);
var orangeAll = [].concat(orangeTail, orangeScattered, orangeLower, orangeBottom);

myChart.setOption({
	backgroundColor: "#fff",
	animation: false,
	grid: { left: 208, right: 166, top: 150, bottom: 137, show: true, borderColor: "#000", borderWidth: 2, backgroundColor: "#fff" },
	xAxis: { type: "value", min: 196, max: 1411, show: false },
	yAxis: { type: "value", min: 141, max: 1047, inverse: true, show: false },
	series: [
		dots(orangeBelow, "#ff7f0e"),
		dots(blueAll, "#1f77b4"),
		dots(orangeAll, "#ff7f0e"),
		dots(blueOver, "#1f77b4"),
		dots(orangeTop, "#ff7f0e")
	]
});
</script>
</body>
</html>
